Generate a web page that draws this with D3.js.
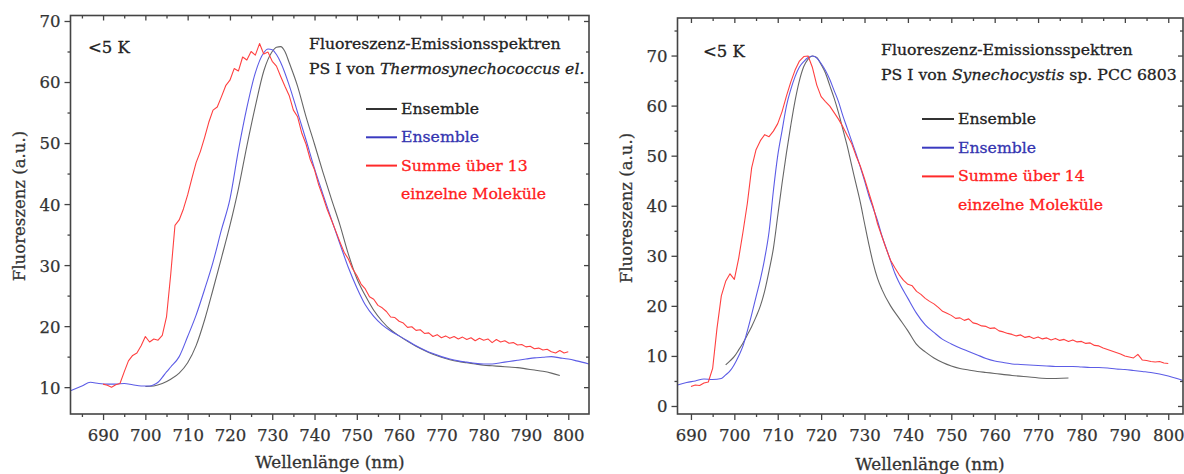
<!DOCTYPE html>
<html><head><meta charset="utf-8">
<script src="https://cdn.jsdelivr.net/npm/d3@7"></script>
<style>html,body{margin:0;padding:0;background:#fff;} svg{display:block;}</style>
</head><body>
<svg id="chart" width="1184" height="474"></svg>
<script>
// ---------- data ----------
const xTickValues = [690,700,710,720,730,740,750,760,770,780,790,800];
const leftYTickValues = [10,20,30,40,50,60,70];
const rightYTickValues = [0,10,20,30,40,50,60,70];

const leftTitle = ["Fluoreszenz-Emissionsspektren", "PS I von ", "Thermosynechococcus el.", ""];
const rightTitle = ["Fluoreszenz-Emissionsspektren", "PS I von ", "Synechocystis", " sp. PCC 6803"];
const leftLegend = ["Ensemble", "Ensemble", "Summe über 13", "einzelne Moleküle"];
const rightLegend = ["Ensemble", "Ensemble", "Summe über 14", "einzelne Moleküle"];
const tempLabel = "<5 K";
const xLabel = "Wellenlänge (nm)";
const yLabel = "Fluoreszenz (a.u.)";

// left panel (Thermosynechococcus el.)
const leftBlack = [[700,10.1],[702,10.2],[704,10.6],[706,11.3],[708,12.3],[710,14.0],[712,16.8],[714,21.0],[716,26.0],[718,31.2],[720,36.5],[722,42.5],[724,49.5],[726,56.0],[728,61.8],[730,65.0],[731,65.7],[732,65.8],[733,65.0],[734,63.2],[736,59.3],[738,54.3],[740,49.8],[742,45.2],[744,40.8],[746,36.6],[748,31.8],[750,27.8],[752,25.0],[754,22.6],[756,20.8],[758,19.4],[760,18.4],[762,17.5],[764,16.7],[766,16.0],[768,15.4],[770,14.9],[772,14.5],[774,14.2],[776,14.0],[778,13.8],[780,13.6],[782,13.5],[784,13.4],[786,13.3],[788,13.2],[790,13.0],[792,12.8],[794,12.6],[796,12.3],[798,11.9]];
const leftBlue = [[682.3,9.4],[685,10.2],[687,10.8],[689,10.6],[691,10.5],[693,10.5],[695,10.6],[697,10.4],[699,10.2],[701,10.2],[702,10.4],[703,10.8],[704,11.6],[705,12.5],[706,13.3],[708,15.0],[710,18.3],[712,21.8],[714,26.0],[716,30.5],[718,35.8],[720,40.8],[722,48.8],[724,55.8],[726,61.5],[728,64.8],[729,65.4],[730,65.3],[731,64.5],[732,63.2],[734,59.5],[736,55.0],[738,50.5],[740,45.8],[742,41.6],[744,37.5],[746,33.5],[748,29.6],[750,26.3],[752,23.5],[754,21.6],[756,20.2],[758,19.2],[760,18.4],[762,17.6],[764,16.8],[766,16.1],[768,15.5],[770,15.0],[772,14.6],[774,14.3],[776,14.1],[778,13.9],[780,13.8],[782,13.8],[784,14.0],[786,14.2],[788,14.4],[790,14.6],[792,14.8],[794,14.9],[796,15.0],[798,14.8],[800,14.6],[802,14.3],[804.9,13.8]];
const leftRed = [[690,10.5],[691,10.3],[692,10.0],[693,10.4],[694,10.6],[695,12.5],[696,14.3],[697,15.2],[698,15.6],[699,16.8],[700,18.3],[701,17.4],[702,17.9],[703,17.7],[704,18.5],[705,21.5],[706,28.5],[707,36.5],[708,37.4],[709,39.2],[710,41.5],[711,44.2],[712,46.8],[713,48.6],[714,50.9],[715,53.4],[716,55.4],[717,55.9],[718,57.6],[719,59.4],[720,60.3],[721,62.2],[722,61.8],[723,64.1],[724,63.6],[725,65.0],[726,64.4],[727,66.3],[728,64.6],[729,64.9],[730,63.4],[731,62.6],[732,60.9],[733,59.3],[734,57.8],[735,55.4],[736,54.3],[737,51.6],[738,49.8],[739,47.3],[740,45.6],[741,43.1],[742,41.2],[743,39.1],[744,37.4],[745,35.6],[746,33.8],[747,32.1],[748,31.0],[749,29.4],[750,28.3],[751,26.9],[752,26.1],[753,24.8],[754,24.4],[755,23.4],[756,23.0],[757,22.4],[758,21.5],[759,21.4],[760,20.8],[761,20.5],[762,19.8],[763,19.9],[764,19.3],[765,19.4],[766,18.8],[767,18.9],[768,18.3],[769,18.6],[770,18.1],[771,18.4],[772,18.0],[773,18.3],[774,17.9],[775,18.2],[776,17.8],[777,18.1],[778,17.6],[779,18.0],[780,17.7],[781,17.9],[782,17.3],[783,17.8],[784,17.4],[785,17.6],[786,17.2],[787,17.3],[788,16.9],[789,17.0],[790,16.6],[791,16.7],[792,16.3],[793,16.4],[794,16.1],[795,16.2],[796,15.8],[797,15.6],[798,16.0],[799,15.6],[800,15.8]];

// right panel (Synechocystis sp. PCC 6803)
const rightBlack = [[698,8.2],[699,9.0],[700,9.9],[701,11.2],[702,12.6],[703,14.2],[704,15.9],[705,17.8],[706,20.0],[707,23.0],[708,27.0],[709,31.5],[710,38.0],[711,44.5],[712,50.5],[713,56.0],[714,61.0],[715,65.0],[716,67.8],[717,69.3],[718,69.9],[719,69.6],[720,68.2],[721,66.5],[722,64.0],[723,61.5],[724,58.6],[725,55.3],[726,52.0],[727,48.2],[728,44.5],[729,40.8],[730,36.5],[731,32.3],[732,28.5],[733,25.5],[734,23.3],[736,20.0],[738,17.5],[740,15.0],[742,12.3],[744,10.8],[746,9.6],[748,8.7],[750,8.0],[752,7.5],[754,7.2],[756,6.9],[758,6.7],[760,6.5],[764,6.1],[768,5.8],[772,5.5],[777,5.6]];
const rightBlue = [[686.9,4.2],[689,4.7],[691,5.0],[693,5.4],[695,5.3],[697,5.5],[698,6.2],[699,7.0],[700,8.3],[701,10.0],[702,12.0],[703,15.0],[704,18.3],[705,21.8],[706,25.3],[707,29.5],[708,34.8],[709,43.0],[710,50.0],[711,55.0],[712,59.9],[713,63.2],[714,65.8],[715,67.7],[716,68.8],[717,69.6],[718,69.9],[719,69.5],[720,68.4],[721,67.0],[722,65.2],[723,63.0],[724,60.8],[725,58.0],[726,55.5],[727,53.0],[728,50.5],[729,47.8],[730,45.0],[731,42.0],[732,39.5],[733,37.0],[734,34.0],[735,31.5],[736,29.0],[737,26.5],[738,24.6],[740,21.5],[742,18.5],[744,16.2],[746,14.7],[748,13.3],[750,12.4],[752,11.6],[754,10.9],[756,10.2],[758,9.5],[760,9.0],[762,8.7],[764,8.4],[766,8.3],[768,8.2],[770,8.1],[772,8.0],[774,7.9],[776,7.9],[778,7.9],[780,7.8],[782,7.7],[784,7.7],[786,7.6],[788,7.4],[790,7.3],[792,7.1],[794,6.9],[796,6.7],[798,6.4],[800,6.0],[802,5.5],[803.4,5.1]];
const rightRed = [[690,3.9],[691,4.2],[692,4.1],[693,4.6],[694,4.8],[695,7.5],[696,15.5],[697,22.0],[698,24.9],[699,26.4],[700,25.3],[701,29.5],[702,34.8],[703,40.5],[704,47.6],[705,51.2],[706,53.0],[707,54.2],[708,53.8],[709,54.9],[710,56.4],[711,58.8],[712,61.9],[713,64.7],[714,67.1],[715,68.9],[716,69.8],[717,69.9],[718,67.6],[719,64.1],[720,61.8],[721,60.8],[722,59.9],[723,58.6],[724,57.3],[725,55.8],[726,54.1],[727,52.5],[728,50.1],[729,48.0],[730,45.4],[731,42.6],[732,39.8],[733,36.4],[734,33.9],[735,31.4],[736,29.1],[737,27.6],[738,26.2],[739,25.1],[740,24.3],[741,24.0],[742,22.9],[743,22.3],[744,21.5],[745,20.9],[746,20.4],[747,19.7],[748,18.9],[749,18.5],[750,18.1],[751,17.5],[752,17.6],[753,17.1],[754,17.4],[755,16.6],[756,16.4],[757,16.0],[758,15.9],[759,15.5],[760,15.6],[761,15.0],[762,14.8],[763,14.5],[764,14.3],[765,14.0],[766,14.2],[767,13.7],[768,13.9],[769,13.5],[770,13.8],[771,13.4],[772,13.6],[773,13.2],[774,13.5],[775,13.1],[776,13.3],[777,12.9],[778,13.2],[779,12.8],[780,12.9],[781,12.5],[782,12.6],[783,12.1],[784,12.0],[785,11.6],[786,11.3],[787,11.0],[788,10.7],[789,10.4],[790,10.0],[791,9.8],[792,9.6],[793,10.3],[794,9.2],[795,9.1],[796,8.9],[797,8.8],[798,8.9],[799,8.6],[800,8.5]];

// ---------- drawing ----------
const FONT = "'DejaVu Serif', 'Liberation Serif', serif";
const svg = d3.select("#chart");
const COL = {black:"#666", blue:"#5c5ce6", red:"#ff4040",
             legBlack:"#333", legBlue:"#3a3ac0", legRed:"#ff2a2a",
             textBlack:"#222", textBlue:"#3434b0", textRed:"#ff2020", axis:"#444"};

function addText(g, x, y, size, color, txt){
  return g.append("text").attr("x",x).attr("y",y)
    .attr("font-family",FONT).attr("font-size",size).attr("fill",color)
    .attr("stroke",color).attr("stroke-width",0.3).text(txt);
}

function drawPanel(cfg){
  const {x0,x1,y0,y1,xDom,yDom,yTicks,yMinor,xMinor,series,title,legend} = cfg;
  const x = d3.scaleLinear().domain(xDom).range([x0,x1]);
  const y = d3.scaleLinear().domain(yDom).range([y1,y0]);
  const g = svg.append("g");

  const clipId = "clip" + Math.round(x0);
  g.append("clipPath").attr("id",clipId).append("rect")
    .attr("x",x0).attr("y",y0).attr("width",x1-x0).attr("height",y1-y0);

  const line = d3.line().x(d=>x(d[0])).y(d=>y(d[1]));
  const plot = g.append("g").attr("clip-path",`url(#${clipId})`);
  series.forEach(s=>{
    plot.append("path").datum(s.data)
      .attr("fill","none").attr("stroke",s.color).attr("stroke-width",s.w)
      .attr("stroke-linejoin","round")
      .attr("d", line.curve(s.smooth ? d3.curveMonotoneX : d3.curveLinear));
  });

  const styleAxis = sel => {
    sel.selectAll("path.domain").remove();
    sel.selectAll("line").attr("stroke",COL.axis).attr("stroke-width",1.3);
    sel.selectAll("text").attr("font-family",FONT).attr("font-size",16.5).attr("fill","#333")
      .attr("stroke","#333").attr("stroke-width",0.25);
  };
  // bottom
  g.append("g").attr("transform",`translate(0,${y1})`)
    .call(d3.axisBottom(x).tickValues(xTickValues).tickSize(6).tickPadding(7).tickFormat(d3.format("d")))
    .call(styleAxis).selectAll("text").attr("dy","0.85em");
  g.append("g").attr("transform",`translate(0,${y1})`)
    .call(d3.axisBottom(x).tickValues(xMinor).tickSize(3).tickFormat(""))
    .call(styleAxis);
  // top (inward)
  g.append("g").attr("transform",`translate(0,${y0})`)
    .call(d3.axisBottom(x).tickValues(xTickValues).tickSize(5).tickFormat(""))
    .call(styleAxis);
  g.append("g").attr("transform",`translate(0,${y0})`)
    .call(d3.axisBottom(x).tickValues(xMinor).tickSize(3).tickFormat(""))
    .call(styleAxis);
  // left
  g.append("g").attr("transform",`translate(${x0},0)`)
    .call(d3.axisLeft(y).tickValues(yTicks).tickSize(6).tickPadding(4).tickFormat(d3.format("d")))
    .call(styleAxis).selectAll("text").attr("dy","0.36em");
  g.append("g").attr("transform",`translate(${x0},0)`)
    .call(d3.axisLeft(y).tickValues(yMinor).tickSize(3).tickFormat(""))
    .call(styleAxis);
  // right (inward)
  g.append("g").attr("transform",`translate(${x1},0)`)
    .call(d3.axisRight(y).tickValues(yTicks).tickSize(-5).tickFormat(""))
    .call(styleAxis);
  g.append("g").attr("transform",`translate(${x1},0)`)
    .call(d3.axisRight(y).tickValues(yMinor).tickSize(-3).tickFormat(""))
    .call(styleAxis);

  // frame
  g.append("rect").attr("x",x0).attr("y",y0).attr("width",x1-x0).attr("height",y1-y0)
    .attr("fill","none").attr("stroke",COL.axis).attr("stroke-width",1.6);

  // axis titles
  addText(g, cfg.xlabX, cfg.xlabY, 16.8, "#333", xLabel).attr("text-anchor","middle");
  g.append("text").attr("transform",`translate(${cfg.ylabX},${cfg.ylabY}) rotate(-90)`)
    .attr("text-anchor","middle")
    .attr("font-family",FONT).attr("font-size",16.5).attr("fill","#333")
    .attr("stroke","#333").attr("stroke-width",0.25).text(yLabel);

  // temperature
  addText(g, cfg.tempX, cfg.tempY, 16.5, COL.textBlack, tempLabel);

  // title
  const tf = 15.7;
  addText(g, cfg.titleX, cfg.titleY, tf, COL.textBlack, title[0]);
  const t2 = addText(g, cfg.titleX, cfg.titleY+24.5, tf, COL.textBlack, null);
  t2.append("tspan").text(title[1]);
  t2.append("tspan").attr("font-style","italic").text(title[2]);
  t2.append("tspan").text(title[3]);

  // legend
  const lc = [COL.legBlack, COL.legBlue, COL.legRed, null];
  const tc = [COL.textBlack, COL.textBlue, COL.textRed, COL.textRed];
  legend.forEach((txt,i)=>{
    const by = cfg.legY + i*cfg.legDy;
    if(lc[i]) g.append("line").attr("x1",cfg.legX).attr("x2",cfg.legX+cfg.legLen)
      .attr("y1",by-5).attr("y2",by-5).attr("stroke",lc[i]).attr("stroke-width",2);
    addText(g, cfg.legX+cfg.legLen+4, by, tf, tc[i], txt);
  });
}

drawPanel({
  x0:70.5, x1:589, y0:15.5, y1:414,
  xDom:[682.3,804.9], yDom:[5.6,70.9],
  yTicks:leftYTickValues, yMinor:[15,25,35,45,55,65],
  xMinor:[685,695,705,715,725,735,745,755,765,775,785,795],
  series:[
    {data:leftBlack, color:COL.black, w:1.1, smooth:true},
    {data:leftBlue, color:COL.blue, w:1.1, smooth:true},
    {data:leftRed, color:COL.red, w:1.1, smooth:false}
  ],
  title:leftTitle, legend:leftLegend,
  titleX:309, titleY:49, legX:366, legLen:31, legY:114, legDy:28.3,
  tempX:88, tempY:53,
  xlabX:330, xlabY:468, ylabX:25, ylabY:206
});

drawPanel({
  x0:677.5, x1:1183, y0:18, y1:414,
  xDom:[686.9,803.4], yDom:[-1.6,77.5],
  yTicks:rightYTickValues, yMinor:[5,15,25,35,45,55,65,75],
  xMinor:[695,705,715,725,735,745,755,765,775,785,795],
  series:[
    {data:rightBlack, color:COL.black, w:1.1, smooth:true},
    {data:rightBlue, color:COL.blue, w:1.1, smooth:true},
    {data:rightRed, color:COL.red, w:1.1, smooth:false}
  ],
  title:rightTitle, legend:rightLegend,
  titleX:881, titleY:55, legX:922, legLen:32, legY:124, legDy:28.7,
  tempX:703, tempY:57,
  xlabX:930, xlabY:470, ylabX:632, ylabY:208
});
</script>
</body></html>
